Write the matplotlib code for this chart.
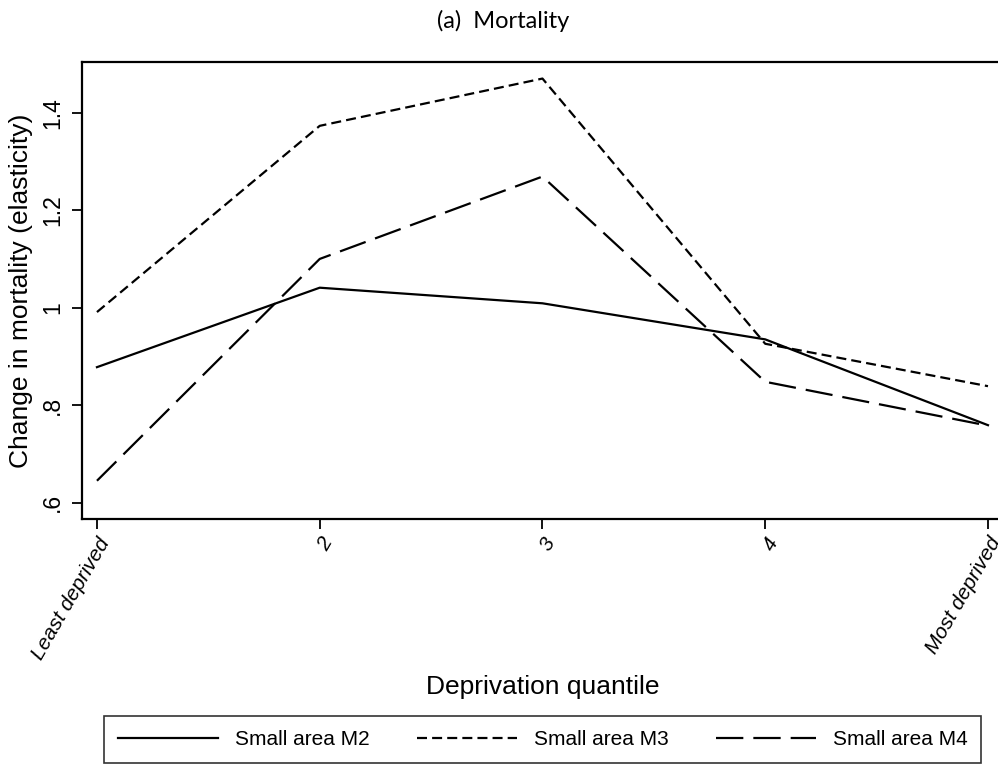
import matplotlib
matplotlib.use("Agg")
import matplotlib.pyplot as plt

plt.rcParams['font.family'] = ['Liberation Sans', 'DejaVu Sans']

# deprivation quantiles 1..5
quantiles = [1, 2, 3, 4, 5]
tick_labels = ['Least deprived', '2', '3', '4', 'Most deprived']

m2 = [0.878, 1.041, 1.009, 0.935, 0.759]
m3 = [0.991, 1.373, 1.470, 0.926, 0.839]
m4 = [0.645, 1.100, 1.269, 0.848, 0.758]

yticks = [0.6, 0.8, 1.0, 1.2, 1.4]
ytick_labels = ['.6', '.8', '1', '1.2', '1.4']

fig = plt.figure(figsize=(9.98, 7.65), dpi=100)
ax = fig.add_axes([0.0822, 0.3216, 0.9178, 0.5977])

lw = 1.6
ax.plot(quantiles, m2, color='black', lw=lw, label='Small area M2')
ax.plot(quantiles, m3, color='black', lw=lw, dashes=(4.5, 2.3), label='Small area M3')
ax.plot(quantiles, m4, color='black', lw=lw, dashes=(12.3, 4.5), label='Small area M4')

ax.set_xlim(0.933, 5.045)
ax.set_ylim(0.5666, 1.5045)

ax.set_yticks(yticks)
ax.set_yticklabels(ytick_labels, rotation=90, va='center', fontsize=16.5)
ax.set_xticks(quantiles)
ax.set_xticklabels(tick_labels, rotation=60, ha='right', va='top',
                   rotation_mode='anchor', fontsize=15, style='italic')
ax.tick_params(axis='both', direction='out', length=7, width=1.3, color='black')
ax.tick_params(axis='y', pad=6)
ax.tick_params(axis='x', pad=4)

for side in ['left', 'bottom', 'top']:
    ax.spines[side].set_linewidth(1.6)
ax.spines['right'].set_visible(False)

ax.set_ylabel('Change in mortality (elasticity)', fontsize=19)
ax.yaxis.set_label_coords(-0.0535, 0.5)

fig.text(0.544, 0.102, 'Deprivation quantile', ha='center', va='center', fontsize=19)
fig.text(0.504, 0.972, '(a)  Mortality', ha='center', va='center',
         fontsize=17, family=['Lato', 'DejaVu Sans'])

leg = fig.legend(loc='center', bbox_to_anchor=(0.544, 0.0333), ncol=3,
                 fontsize=15, frameon=True, fancybox=False, edgecolor='black',
                 handlelength=4.8, handletextpad=0.8, columnspacing=2.3,
                 borderpad=0.65, borderaxespad=0)
leg.get_frame().set_linewidth(1.2)

fig.savefig('out.png', dpi=100, facecolor='white')
